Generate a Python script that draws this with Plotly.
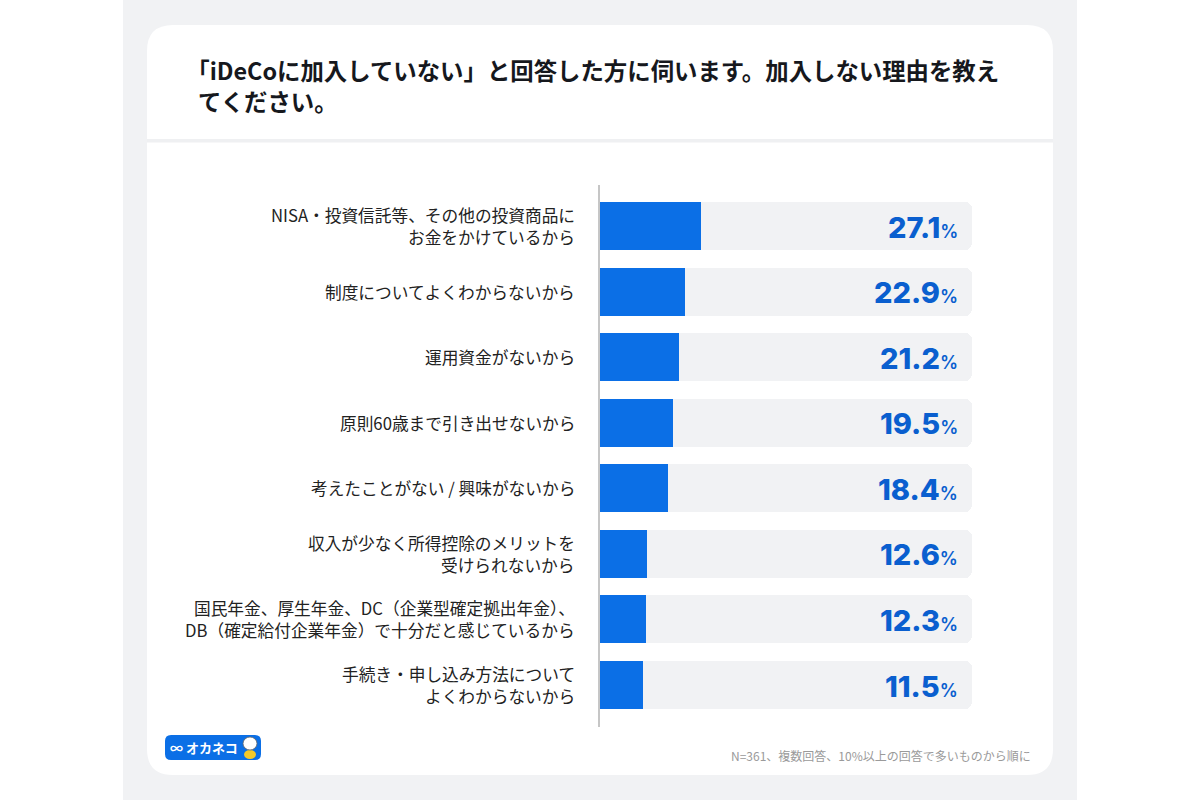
import plotly.graph_objects as go

# ---- data ----
categories = [
    "NISA・投資信託等、その他の投資商品に<br>お金をかけているから",
    "制度についてよくわからないから",
    "運用資金がないから",
    "原則60歳まで引き出せないから",
    "考えたことがない / 興味がないから",
    "収入が少なく所得控除のメリットを<br>受けられないから",
    "国民年金、厚生年金、DC（企業型確定拠出年金）、<br>DB（確定給付企業年金）で十分だと感じているから",
    "手続き・申し込み方法について<br>よくわからないから",
]
values = [27.1, 22.9, 21.2, 19.5, 18.4, 12.6, 12.3, 11.5]
full_scale = [100] * len(values)
title_lines = ["｢iDeCoに加入していない」と回答した方に伺います。加入しない理由を教え", "てください。"]
note_text = "N=361、複数回答、10%以上の回答で多いものから順に"
logo_text = "∞ オカネコ"

positions = list(range(len(categories)))

# ---- layout geometry (pixels) ----
W, H = 1200, 800
L, R, T, B = 600, 972, 185, 727
PW, PH = R - L, B - T

def px(x):
    return (x - L) / PW

def py(y):
    return (B - y) / PH

def rounded_path(x0, y0, x1, y1, r):
    pts = []
    pts.append(f"M {px(x0 + r)} {py(y0)}")
    pts.append(f"L {px(x1 - r)} {py(y0)}")
    pts.append(f"Q {px(x1)} {py(y0)} {px(x1)} {py(y0 + r)}")
    pts.append(f"L {px(x1)} {py(y1 - r)}")
    pts.append(f"Q {px(x1)} {py(y1)} {px(x1 - r)} {py(y1)}")
    pts.append(f"L {px(x0 + r)} {py(y1)}")
    pts.append(f"Q {px(x0)} {py(y1)} {px(x0)} {py(y1 - r)}")
    pts.append(f"L {px(x0)} {py(y0 + r)}")
    pts.append(f"Q {px(x0)} {py(y0)} {px(x0 + r)} {py(y0)} Z")
    return " ".join(pts)

JP = "Noto Sans CJK JP"
BLUE = "#0B6FE6"
VAL_BLUE = "#0A5FCF"
TRACK = "#F1F2F4"

fig = go.Figure()
fig.add_trace(go.Bar(
    x=full_scale, y=positions, orientation="h",
    marker=dict(color=TRACK, line=dict(width=0), cornerradius=7),
    width=0.73, hoverinfo="skip", showlegend=False,
))
fig.add_trace(go.Bar(
    x=values, y=positions, orientation="h",
    marker=dict(color=BLUE, line=dict(width=0), cornerradius=7),
    width=0.73, hoverinfo="skip", showlegend=False,
))

shapes = [
    dict(type="rect", xref="paper", yref="paper", x0=px(123), x1=px(1077), y0=py(0), y1=py(800),
         fillcolor="#F1F2F4", line=dict(width=0), layer="below"),
    dict(type="path", xref="paper", yref="paper", path=rounded_path(147, 25, 1053, 775, 26),
         fillcolor="white", line=dict(width=0), layer="below"),
    dict(type="rect", xref="paper", yref="paper", x0=px(147), x1=px(1053), y0=py(139), y1=py(142.5),
         fillcolor="#EFF0F2", line=dict(width=0), layer="below"),
    dict(type="path", xref="paper", yref="paper", path=rounded_path(165, 735, 261, 760, 6),
         fillcolor=BLUE, line=dict(width=0), layer="above"),
    # small mascot
    dict(type="circle", xref="paper", yref="paper", x0=px(244), x1=px(256), y0=py(750), y1=py(759),
         fillcolor="#F5C928", line=dict(width=0), layer="above"),
    dict(type="circle", xref="paper", yref="paper", x0=px(243), x1=px(257), y0=py(737), y1=py(750),
         fillcolor="white", line=dict(width=0.8, color="#666"), layer="above"),
]

annotations = [
    dict(xref="paper", yref="paper", x=px(196), y=py(70), xanchor="left", yanchor="middle",
         text=title_lines[0], align="left", showarrow=False,
         font=dict(family=JP, size=23.4, color="#16181D", weight=700)),
    dict(xref="paper", yref="paper", x=px(196), y=py(101), xanchor="left", yanchor="middle",
         text=title_lines[1], align="left", showarrow=False,
         font=dict(family=JP, size=23.4, color="#16181D", weight=700)),
    dict(xref="paper", yref="paper", x=px(1033), y=py(755), xanchor="right", yanchor="middle",
         text=note_text, showarrow=False, font=dict(family=JP, size=12, color="#9A9A9A")),
    dict(xref="paper", yref="paper", x=px(204), y=py(747.5), xanchor="center", yanchor="middle",
         text=logo_text, showarrow=False, font=dict(family=JP, size=13, color="white", weight=700)),
]

# category labels, one annotation per line, right-aligned next to the axis
LINE_GAP = 22
for p, cat in zip(positions, categories):
    lines = cat.split("<br>")
    n = len(lines)
    for i, ln in enumerate(lines):
        shift = ((n - 1) / 2 - i) * LINE_GAP
        annotations.append(dict(
            x=px(577), xref="paper", y=p, yref="y", xanchor="right", yanchor="middle",
            yshift=shift, text=ln, showarrow=False,
            font=dict(family=JP, size=16.7, color="#222222"),
        ))

for p, v in zip(positions, values):
    annotations.append(dict(
        x=100, y=p, xref="x", yref="y", xanchor="right", yanchor="middle", xshift=-12, yshift=-1,
        text=f"{v}<span style='font-size:18px;font-weight:600'>%</span>",
        showarrow=False, font=dict(family="Inter", size=29, color=VAL_BLUE, weight=800),
    ))

fig.update_layout(
    width=W, height=H,
    margin=dict(l=L, r=W - R, t=T, b=H - B),
    paper_bgcolor="white", plot_bgcolor="rgba(0,0,0,0)",
    barmode="overlay", bargap=0,
    shapes=shapes, annotations=annotations,
    xaxis=dict(range=[0, 100], visible=False, showgrid=False, zeroline=False, fixedrange=True),
    yaxis=dict(
        range=[7 + 42 / 65.57, -41 / 65.57],
        tickvals=positions, showticklabels=False,
        ticks="", showgrid=False, zeroline=False,
        showline=True, linecolor="#C6C6C6", linewidth=2,
        fixedrange=True,
    ),
    showlegend=False,
)

fig.write_html(
    "out.html",
    config={"displayModeBar": False},
    post_script="document.body.style.margin='0';document.body.style.padding='0';",
)
